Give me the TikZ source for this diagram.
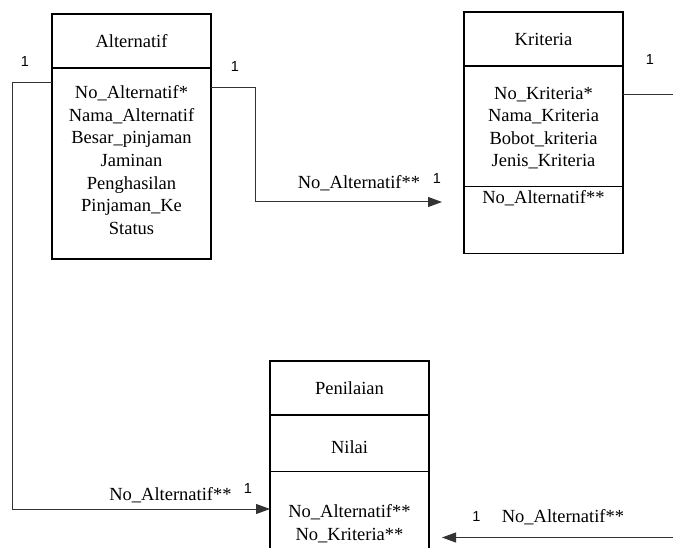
\documentclass[tikz,border=0pt]{standalone}
\usepackage{fontspec}
\setmainfont{Liberation Serif}
\newfontfamily\cardfont{Liberation Sans}
\usetikzlibrary{positioning, arrows.meta}

\begin{document}
\begin{tikzpicture}[
    x=1pt, y=-1pt,
    font=\fontsize{18.5}{22.6}\selectfont,
    head/.style={
        rectangle,
        draw,
        line width=1.2pt,
        align=center,
        minimum width=159pt,
        minimum height=54pt,
        inner sep=0pt,
        outer sep=0pt,
        anchor=north
    },
    section/.style={
        rectangle,
        draw,
        line width=1.2pt,
        minimum width=159pt,
        inner sep=0pt,
        outer sep=0pt
    },
    field/.style={
        align=center,
        inner sep=0pt
    },
    card/.style={
        font=\cardfont\fontsize{14.5}{16}\selectfont,
        inner sep=0pt
    },
    role/.style={
        inner sep=0pt
    },
    arrow/.style={
        -{Triangle[length=14pt, width=10pt]},
        line width=1pt,
        draw=black!80
    }
]

\useasboundingbox (0,0) rectangle (673,548);
\clip (0,0) rectangle (673,548);

% ------------------------------------------------------------------
% ALTERNATIF
% ------------------------------------------------------------------

\node[head] (althead) at (131.5,14) {Alternatif};

\node[section, below=0pt of althead, minimum height=191pt] (altbody) {};

\node[field] (altattr) at ([yshift=-92pt]altbody.north)
{No\_Alternatif*\\Nama\_Alternatif\\Besar\_pinjaman\\Jaminan\\
Penghasilan\\Pinjaman\_Ke\\Status};

% ------------------------------------------------------------------
% KRITERIA
% ------------------------------------------------------------------

\node[head] (krihead) at (543.5,12) {Kriteria};

\node[section, below=0pt of krihead, minimum height=120.5pt] (kribody) {};

\node[section, below=0pt of kribody, minimum height=67pt] (krikey) {};

\node[field] (kriattr) at ([yshift=-62pt]kribody.north)
{No\_Kriteria*\\Nama\_Kriteria\\Bobot\_kriteria\\Jenis\_Kriteria};

\node[field] (krifk) at ([yshift=-11.5pt]krikey.north) {No\_Alternatif**};

% ------------------------------------------------------------------
% PENILAIAN
% ------------------------------------------------------------------

\node[head] (penhead) at (349.5,361) {Penilaian};

\node[section, below=0pt of penhead, minimum height=56.5pt] (pennilai) {};

\node[section, below=0pt of pennilai, minimum height=100pt] (penkey) {};

\node[field] (nilai) at ([yshift=-32pt]pennilai.north) {Nilai};

\node[field] (penfk) at ([yshift=-52pt]penkey.north)
{No\_Alternatif**\\No\_Kriteria**};

% ------------------------------------------------------------------
% CONNECTIONS
% ------------------------------------------------------------------

\draw[arrow] ([yshift=-15pt]altbody.north west) -- ++(-39.5,0)
    |- ([yshift=-37.5pt]penkey.north west);

\draw[arrow] ([yshift=-20pt]altbody.north east) -- ++(44,0)
    |- ([xshift=-22pt, yshift=-15.5pt]krikey.north west);

\draw[arrow] ([yshift=-29pt]kribody.north east) -- ++(80,0)
    |- ([xshift=13pt, yshift=-66pt]penkey.north east);

% ------------------------------------------------------------------
% LABELS
% ------------------------------------------------------------------

\node[card] (altleft) at (25,62) {1};
\node[card] (altright) at (235,66.5) {1};
\node[card] (krileft) at (437,179) {1};
\node[card] (kriright) at (650,60) {1};
\node[card] (penleft) at (248,489) {1};
\node[card] (penright) at (476.5,517) {1};

\node[role] (rolekri) at (359,183) {No\_Alternatif**};
\node[role] (rolepen) at (170.5,495) {No\_Alternatif**};
\node[role] (rolenil) at (563,517) {No\_Alternatif**};

\end{tikzpicture}
\end{document}
